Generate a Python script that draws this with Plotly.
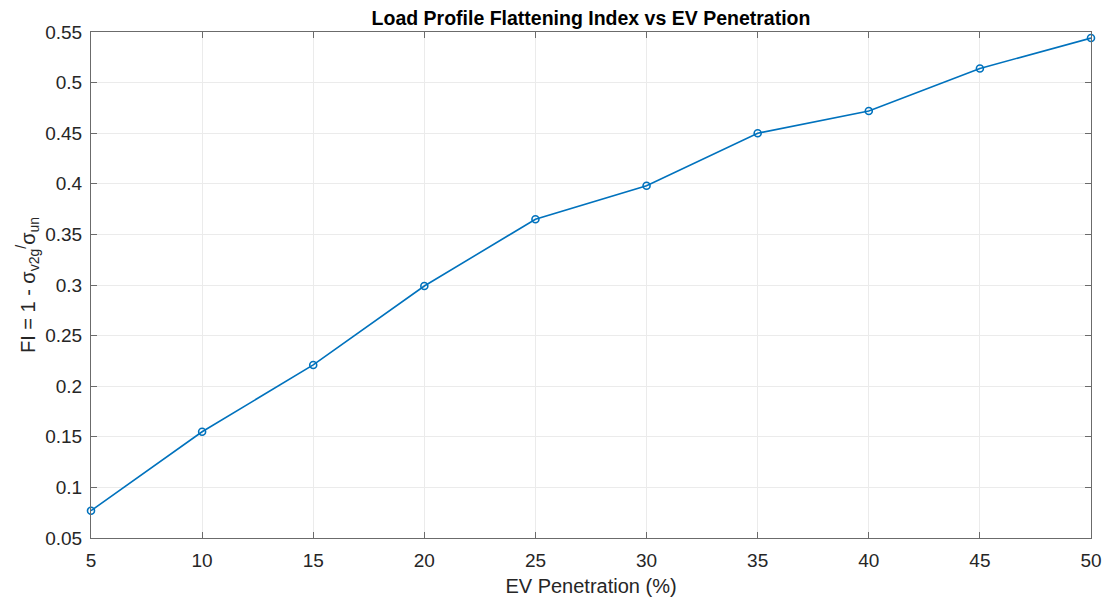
import plotly.graph_objects as go

penetration = [5, 10, 15, 20, 25, 30, 35, 40, 45, 50]
flattening_index = [0.077, 0.155, 0.221, 0.299, 0.365, 0.398, 0.450, 0.472, 0.514, 0.544]
x_ticks = [5, 10, 15, 20, 25, 30, 35, 40, 45, 50]
y_ticks = [0.05, 0.1, 0.15, 0.2, 0.25, 0.3, 0.35, 0.4, 0.45, 0.5, 0.55]
y_tick_labels = ["0.05", "0.1", "0.15", "0.2", "0.25", "0.3", "0.35", "0.4", "0.45", "0.5", "0.55"]

FONT = "Liberation Sans, Arial, sans-serif"

fig = go.Figure()
fig.add_trace(go.Scatter(
    x=penetration, y=flattening_index, mode="lines+markers",
    line=dict(color="#0072BD", width=1.6),
    marker=dict(symbol="circle-open", size=7, color="#0072BD", line=dict(width=1.6)),
    showlegend=False, cliponaxis=False,
))

axis_common = dict(
    showgrid=True, gridcolor="#EBEBEB", gridwidth=1,
    showline=True, linecolor="#6b6b6b", linewidth=1, mirror="ticks",
    ticks="inside", ticklen=6, tickcolor="#6b6b6b", tickwidth=1,
    zeroline=False,
    tickfont=dict(family=FONT, size=19, color="#262626"),
)

fig.update_layout(
    width=1112, height=601,
    margin=dict(l=83, r=29, t=24, b=71),
    paper_bgcolor="white", plot_bgcolor="white",
    title=dict(text="<b>Load Profile Flattening Index vs EV Penetration</b>",
               x=0.5, xref="paper", xanchor="center", y=0.983, yanchor="middle",
               font=dict(family=FONT, size=19.5, color="black")),
    xaxis=dict(axis_common, range=[5, 50], tickvals=x_ticks, ticklabelstandoff=5,
               title=dict(text="EV Penetration (%)", standoff=9,
                          font=dict(family=FONT, size=20, color="#262626"))),
    yaxis=dict(axis_common, range=[0.05, 0.55], tickvals=y_ticks, ticktext=y_tick_labels,
               ticklabelstandoff=4,
               title=dict(text="FI = 1 - σ<sub>v2g</sub><sup>/</sup>σ<sub>un</sub>", standoff=4,
                          font=dict(family=FONT, size=20, color="#262626"))),
)

fig.write_html("out.html")
